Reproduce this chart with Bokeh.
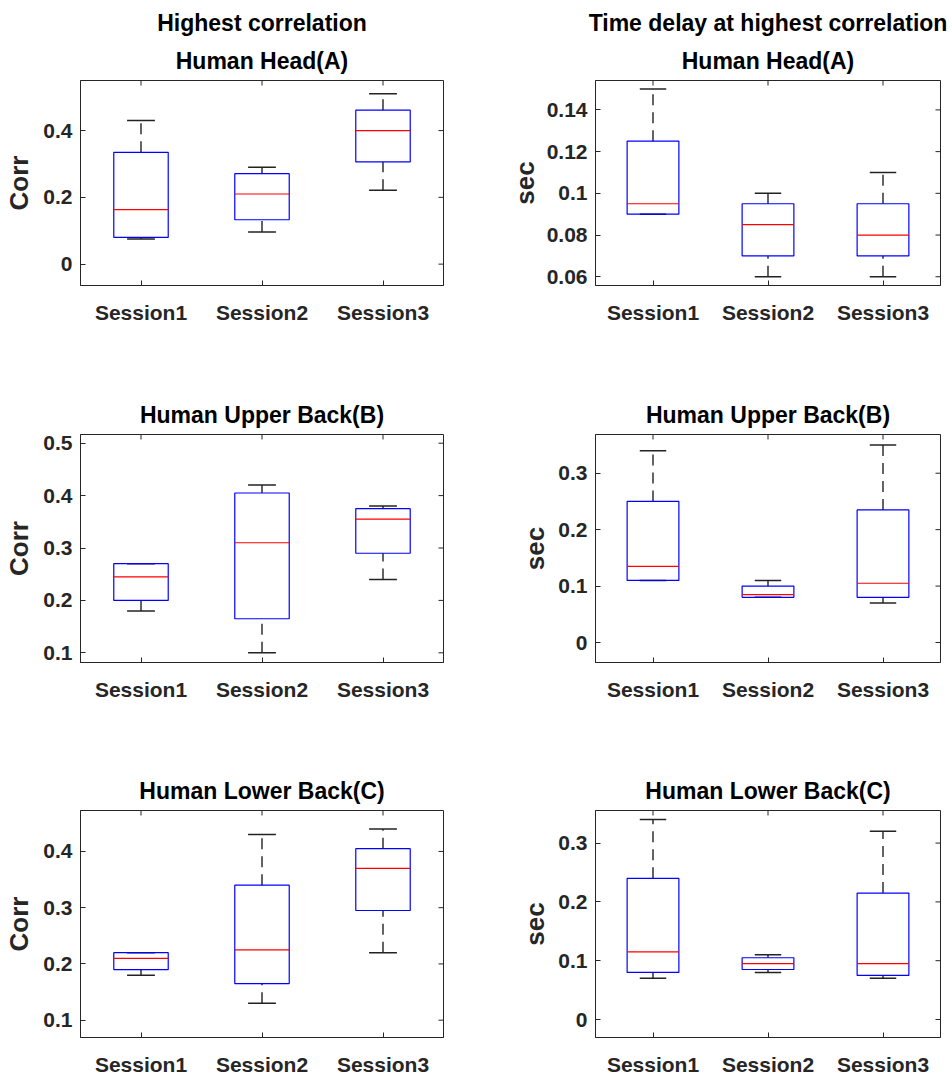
import numpy as np
from bokeh.plotting import figure
from bokeh.models import Range1d, FixedTicker, Title
from bokeh.layouts import column, row
from bokeh.embed import file_html
from bokeh.resources import INLINE

sessions = ["Session1", "Session2", "Session3"]

# ---- Highest correlation, Human Head (A) ----
head_corr_low = [0.075, 0.096, 0.221]
head_corr_q1 = [0.080, 0.133, 0.306]
head_corr_med = [0.163, 0.210, 0.400]
head_corr_q3 = [0.335, 0.271, 0.461]
head_corr_high = [0.430, 0.290, 0.510]
head_corr_ticks = [0, 0.2, 0.4]
head_corr_labels = ["0", "0.2", "0.4"]

# ---- Time delay, Human Head (A) ----
head_delay_low = [0.090, 0.060, 0.060]
head_delay_q1 = [0.090, 0.070, 0.070]
head_delay_med = [0.095, 0.085, 0.080]
head_delay_q3 = [0.125, 0.095, 0.095]
head_delay_high = [0.150, 0.100, 0.110]
head_delay_ticks = [0.06, 0.08, 0.1, 0.12, 0.14]
head_delay_labels = ["0.06", "0.08", "0.1", "0.12", "0.14"]

# ---- Highest correlation, Human Upper Back (B) ----
upper_corr_low = [0.180, 0.100, 0.240]
upper_corr_q1 = [0.200, 0.165, 0.290]
upper_corr_med = [0.245, 0.310, 0.355]
upper_corr_q3 = [0.270, 0.405, 0.375]
upper_corr_high = [0.270, 0.420, 0.380]
upper_corr_ticks = [0.1, 0.2, 0.3, 0.4, 0.5]
upper_corr_labels = ["0.1", "0.2", "0.3", "0.4", "0.5"]

# ---- Time delay, Human Upper Back (B) ----
upper_delay_low = [0.110, 0.080, 0.070]
upper_delay_q1 = [0.110, 0.080, 0.080]
upper_delay_med = [0.135, 0.085, 0.105]
upper_delay_q3 = [0.250, 0.100, 0.235]
upper_delay_high = [0.340, 0.110, 0.350]
upper_delay_ticks = [0, 0.1, 0.2, 0.3]
upper_delay_labels = ["0", "0.1", "0.2", "0.3"]

# ---- Highest correlation, Human Lower Back (C) ----
lower_corr_low = [0.180, 0.130, 0.220]
lower_corr_q1 = [0.190, 0.165, 0.295]
lower_corr_med = [0.210, 0.225, 0.370]
lower_corr_q3 = [0.220, 0.340, 0.405]
lower_corr_high = [0.220, 0.430, 0.440]
lower_corr_ticks = [0.1, 0.2, 0.3, 0.4]
lower_corr_labels = ["0.1", "0.2", "0.3", "0.4"]

# ---- Time delay, Human Lower Back (C) ----
lower_delay_low = [0.070, 0.080, 0.070]
lower_delay_q1 = [0.080, 0.085, 0.075]
lower_delay_med = [0.115, 0.095, 0.095]
lower_delay_q3 = [0.240, 0.105, 0.215]
lower_delay_high = [0.340, 0.110, 0.320]
lower_delay_ticks = [0, 0.1, 0.2, 0.3]
lower_delay_labels = ["0", "0.1", "0.2", "0.3"]

AX = "#262626"
FONT = "Liberation Sans"
X_LO, X_HI = 0.5, 3.5


def panel(title_lines, ylabel, low, q1, med, q3, high, yr, ticks, labels,
          width, height, bl, br, bt, bb, label_standoff):
    p = figure(width=width, height=height, title=None, toolbar_location=None,
               output_backend="svg", x_range=Range1d(X_LO, X_HI), y_range=Range1d(*yr),
               min_border_left=bl, min_border_right=br, min_border_top=bt,
               min_border_bottom=bb, background_fill_color="white",
               border_fill_color="white")
    p.outline_line_color = AX
    p.outline_line_width = 1
    p.xgrid.visible = False
    p.ygrid.visible = False

    x = np.arange(1, len(sessions) + 1)
    bw = 0.45
    cw = 0.23

    # whiskers (dashed), caps, boxes, medians
    p.segment(x0=x, y0=q3, x1=x, y1=high, line_color="#222222", line_width=1.4,
              line_dash="11 7")
    p.segment(x0=x, y0=low, x1=x, y1=q1, line_color="#222222", line_width=1.4,
              line_dash="11 7")
    p.segment(x0=x - cw / 2, y0=high, x1=x + cw / 2, y1=high, line_color="#222222",
              line_width=1.5)
    p.segment(x0=x - cw / 2, y0=low, x1=x + cw / 2, y1=low, line_color="#222222",
              line_width=1.5)
    p.quad(left=x - bw / 2, right=x + bw / 2, bottom=q1, top=q3, fill_color=None,
           line_color="#0000FF", line_width=1.2)
    p.segment(x0=x - bw / 2, y0=med, x1=x + bw / 2, y1=med, line_color="#FF0000",
              line_width=1.2)

    # mirrored inward ticks on top and right edges (clipped to the frame)
    p.scatter(x=x, y=[yr[1]] * len(x), marker="dash", angle=np.pi / 2, size=10,
              line_color=AX, line_width=1)
    p.scatter(x=[X_HI] * len(ticks), y=ticks, marker="dash", size=10,
              line_color=AX, line_width=1)

    # x axis
    xa = p.xaxis[0]
    xa.ticker = FixedTicker(ticks=list(x))
    xa.major_label_overrides = {int(i): s for i, s in zip(x, sessions)}
    # y axis
    ya = p.yaxis[0]
    ya.ticker = FixedTicker(ticks=ticks)
    ya.major_label_overrides = {t: l for t, l in zip(ticks, labels)}
    ya.axis_label = ylabel
    ya.axis_label_text_font = FONT
    ya.axis_label_text_font_style = "bold"
    ya.axis_label_text_font_size = "26px"
    ya.axis_label_text_color = AX
    ya.axis_label_standoff = label_standoff
    for a in (xa, ya):
        a.major_tick_in = 5
        a.major_tick_out = 0
        a.minor_tick_in = 0
        a.minor_tick_out = 0
        a.axis_line_color = AX
        a.major_tick_line_color = AX
        a.major_label_text_font = FONT
        a.major_label_text_font_style = "bold"
        a.major_label_text_font_size = "21px"
        a.major_label_text_color = AX
        a.major_label_standoff = 8
    xa.major_label_standoff = 15

    standoffs = [14, 5]
    for i, line in enumerate(reversed(title_lines)):
        p.add_layout(Title(text=line, align="center", text_font=FONT,
                           text_font_style="bold", text_font_size="23px",
                           text_color="black", standoff=standoffs[i]), "above")
    return p


W = 476
p1 = panel(["Highest correlation", "Human Head(A)"], "Corr",
           head_corr_low, head_corr_q1, head_corr_med, head_corr_q3, head_corr_high,
           (-0.064, 0.55), head_corr_ticks, head_corr_labels,
           W, 360, 80, 33, 80, 75, 6)
p2 = panel(["Time delay at highest correlation", "Human Head(A)"], "sec",
           head_delay_low, head_delay_q1, head_delay_med, head_delay_q3, head_delay_high,
           (0.0558, 0.1541), head_delay_ticks, head_delay_labels,
           W, 360, 119, 12, 80, 75, 4)
p3 = panel(["Human Upper Back(B)"], "Corr",
           upper_corr_low, upper_corr_q1, upper_corr_med, upper_corr_q3, upper_corr_high,
           (0.0815, 0.5166), upper_corr_ticks, upper_corr_labels,
           W, 375, 80, 33, 74, 73, 6)
p4 = panel(["Human Upper Back(B)"], "sec",
           upper_delay_low, upper_delay_q1, upper_delay_med, upper_delay_q3, upper_delay_high,
           (-0.0354, 0.3686), upper_delay_ticks, upper_delay_labels,
           W, 375, 119, 12, 74, 73, 5)
p5 = panel(["Human Lower Back(C)"], "Corr",
           lower_corr_low, lower_corr_q1, lower_corr_med, lower_corr_q3, lower_corr_high,
           (0.0692, 0.4728), lower_corr_ticks, lower_corr_labels,
           W, 347, 80, 33, 75, 45, 6)
p6 = panel(["Human Lower Back(C)"], "sec",
           lower_delay_low, lower_delay_q1, lower_delay_med, lower_delay_q3, lower_delay_high,
           (-0.0306, 0.3554), lower_delay_ticks, lower_delay_labels,
           W, 347, 119, 12, 75, 45, 5)

layout = column(row(p1, p2), row(p3, p4), row(p5, p6))
open("out.html", "w").write(file_html(layout, INLINE))
